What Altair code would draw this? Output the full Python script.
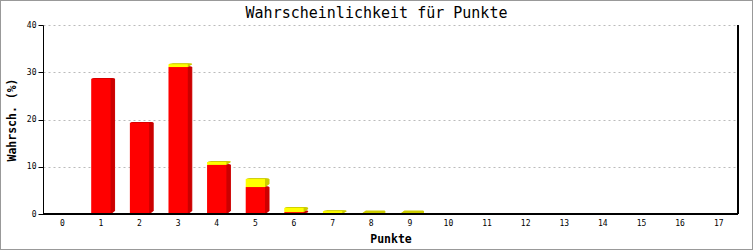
import altair as alt
import pandas as pd

punkte = list(range(18))
rot = [0, 28.6, 19.3, 31.1, 10.4, 5.7, 0.4, 0, 0, 0, 0, 0, 0, 0, 0, 0, 0, 0]
gelb = [0, 0, 0, 0.6, 0.6, 1.7, 0.9, 0.6, 0.08, 0.06, 0, 0, 0, 0, 0, 0, 0, 0]

rows = []
for p, r, g in zip(punkte, rot, gelb):
    rows.append({"punkte": p, "serie": "rot", "ord": 0, "wert": r})
    rows.append({"punkte": p, "serie": "gelb", "ord": 1, "wert": g})
df = pd.DataFrame(rows)

W, H = 695, 189
FONT = "DejaVu Sans Mono"

dom = ["rot", "gelb", "rot_d", "gelb_d"]
rng = ["#ff0000", "#ffff00", "#cc0000", "#cccc00"]

x_enc = alt.X("punkte:O", sort=punkte,
              scale=alt.Scale(domain=punkte, paddingInner=0.5, paddingOuter=0.25),
              axis=alt.Axis(title="Punkte", labelAngle=0, ticks=False, domain=False,
                            labelFont=FONT, labelFontSize=8, labelPadding=5,
                            titleFont=FONT, titleFontSize=11.5, titleFontWeight="bold",
                            titlePadding=6, labelColor="#000", titleColor="#000"))
y_enc = alt.Y("y0:Q", scale=alt.Scale(domain=[0, 40], nice=False),
              axis=alt.Axis(title="Wahrsch. (%)", values=[0, 10, 20, 30, 40],
                            domainColor="#000", tickColor="#000", tickSize=5,
                            labelFont=FONT, labelFontSize=8, labelPadding=2,
                            titleFont=FONT, titleFontSize=11.5, titleFontWeight="bold",
                            titlePadding=9, labelColor="#000", titleColor="#000",
                            grid=True, gridColor="#bbbbbb", gridDash=[2, 3]))

base = (alt.Chart(df)
        .transform_stack(stack="wert", groupby=["punkte"], as_=["y0", "y1"],
                         sort=[alt.SortField("ord")])
        .transform_filter("datum.wert > 0"))

layers = []
for k in [4, 3, 2, 1]:
    layers.append(
        base.transform_calculate(key="datum.serie + '_d'")
        .mark_bar(xOffset=k, yOffset=-0.75 * k, strokeWidth=1)
        .encode(x=x_enc, y=y_enc, y2="y1:Q",
                color=alt.Color("key:N", scale=alt.Scale(domain=dom, range=rng), legend=None),
                stroke=alt.Stroke("key:N", scale=alt.Scale(domain=dom, range=rng), legend=None))
    )
front = (base.transform_calculate(key="datum.serie")
         .mark_bar()
         .encode(x=x_enc, y=y_enc, y2="y1:Q",
                 color=alt.Color("key:N", scale=alt.Scale(domain=dom, range=rng), legend=None)))

right_line = alt.Chart(df).mark_rule(color="#000", strokeWidth=1).encode(
    x=alt.value(W), y=alt.value(0), y2=alt.value(H))
bottom_line = alt.Chart(df).mark_rule(color="#000", strokeWidth=2).encode(
    x=alt.value(0), x2=alt.value(W), y=alt.value(H))
frame = alt.Chart(df).mark_rect(fill=None, stroke="#999999", strokeWidth=2).encode(
    x=alt.value(-43), x2=alt.value(W + 15), y=alt.value(-25), y2=alt.value(H + 36))

chart = alt.layer(*layers, front, bottom_line, right_line, frame).properties(
    width=W, height=H,
    title=alt.TitleParams("Wahrscheinlichkeit für Punkte", font=FONT, fontSize=15,
                          fontWeight="normal", color="#000", offset=6, dy=28, dx=-14),
    autosize=alt.AutoSizeParams(type="none"),
    padding={"left": 43, "top": 25, "right": 15, "bottom": 36},
    background="white",
).configure_view(stroke=None)

chart.save("out.html", embed_options={"renderer": "svg", "actions": False})
